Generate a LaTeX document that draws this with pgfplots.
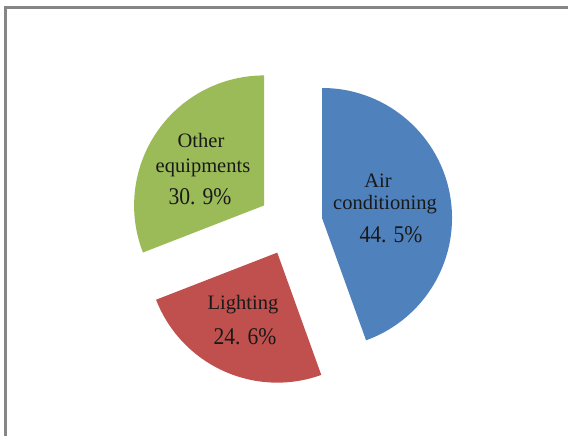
\documentclass[border=0pt]{standalone}
\usepackage{pgfplots}
\pgfplotsset{compat=1.18}
\usepackage{pgfplotstable}
\usepackage{fontspec}
\setmainfont{Liberation Serif}

\definecolor{cAir}{RGB}{79,129,189}
\definecolor{cLight}{RGB}{192,80,77}
\definecolor{cOther}{RGB}{155,187,89}
\definecolor{cFrame}{RGB}{134,134,134}

% share of each end use (%)
\pgfplotstableread{
slice value
air 44.5
light 24.6
other 30.9
}\piedata

\begin{document}
\begin{tikzpicture}
\begin{axis}[x=1pt,y=1pt,xmin=0,xmax=568,ymin=0,ymax=436,
  hide axis, clip=true]
\path (axis cs:0,0) rectangle (axis cs:568,436);
% frame
\draw[cFrame, line width=2.6pt] (axis cs:5.3,-2) -- (axis cs:5.3,428.7) -- (axis cs:572,428.7);
% pie slices, starting at 12 o'clock, clockwise, exploded
\def\cx{290.5}\def\cy{212.5}\def\R{130}\def\ex{32}
\foreach \i/\col in {0/cAir,1/cLight,2/cOther}{
  \pgfplotstablegetelem{\i}{value}\of\piedata
  \pgfmathsetmacro{\va}{\pgfplotsretval}
  \pgfmathsetmacro{\astart}{90}
  \ifnum\i>0
    \pgfplotstablegetelem{0}{value}\of\piedata
    \pgfmathsetmacro{\astart}{90-3.6*\pgfplotsretval}
  \fi
  \ifnum\i>1
    \pgfplotstablegetelem{1}{value}\of\piedata
    \pgfmathsetmacro{\astart}{\astart-3.6*\pgfplotsretval}
  \fi
  \pgfmathsetmacro{\aend}{\astart-3.6*\va}
  \pgfmathsetmacro{\amid}{(\astart+\aend)/2}
  \pgfmathsetmacro{\px}{\cx+\ex*cos(\amid)}
  \pgfmathsetmacro{\py}{\cy+\ex*sin(\amid)}
  \edef\doslice{\noexpand\fill[\col] (axis cs:\px,\py) -- ++(\astart:\R pt)
     arc[start angle=\astart, end angle=\aend, radius=\R pt] -- cycle;}
  \doslice
}
% labels
\tikzset{lab/.style={anchor=base, font=\fontsize{20.5}{24}\selectfont, text=black!90},
         num/.style={anchor=base, font=\fontsize{24}{28}\selectfont, xscale=0.9, text=black!90}}
\node[lab] at (axis cs:378,248) {Air};
\node[lab] at (axis cs:385,226) {conditioning};
\node[num] at (axis cs:391,193) {44. 5\%};
\node[lab] at (axis cs:243,126) {Lighting};
\node[num] at (axis cs:245,91) {24. 6\%};
\node[lab] at (axis cs:201,288) {Other};
\node[lab] at (axis cs:203,263) {equipments};
\node[num] at (axis cs:200,231) {30. 9\%};
\end{axis}
\end{tikzpicture}
\end{document}
